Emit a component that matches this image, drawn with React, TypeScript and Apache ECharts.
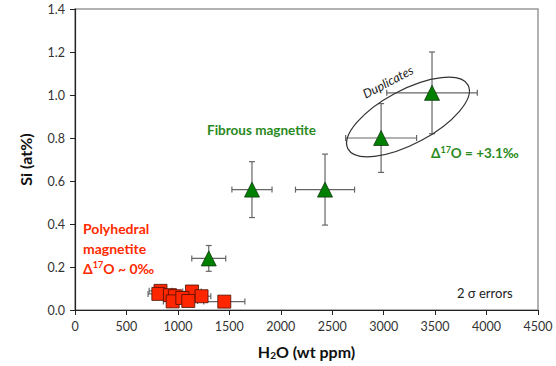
import React, { useEffect, useRef } from "react";
import * as echarts from "echarts";

// Fibrous magnetite (green triangles)
const fibrousH2O = [1300, 1720, 2430, 2975, 3470];
const fibrousSi = [0.24, 0.56, 0.56, 0.8, 1.01];
const fibrousH2OErr = [165, 195, 287, 345, 440];
const fibrousSiErr = [0.06, 0.13, 0.165, 0.16, 0.19];

// Polyhedral magnetite (red squares)
const polyH2O = [831, 810, 923, 971, 949, 1137, 1043, 1230, 1101, 1451];
const polySi = [0.089, 0.075, 0.069, 0.064, 0.04, 0.086, 0.056, 0.064, 0.042, 0.039];
const polyH2OErr = [110, 100, 90, 90, 90, 90, 90, 90, 90, 200];
const polySiErr = [0.01, 0.01, 0.01, 0.01, 0.01, 0.01, 0.01, 0.01, 0.01, 0.01];

const xTicks = [0, 500, 1000, 1500, 2000, 2500, 3000, 3500, 4000, 4500];
const yTicks = [0, 0.2, 0.4, 0.6, 0.8, 1.0, 1.2, 1.4];

const FONT = "Lato, 'Open Sans', sans-serif";
const GREEN = "#2a8a22";
const RED = "#ff2a00";

function errRender(params: any, api: any) {
  const x = api.value(0);
  const y = api.value(1);
  const ex = api.value(2);
  const ey = api.value(3);
  const l = api.coord([x - ex, y]);
  const r = api.coord([x + ex, y]);
  const t = api.coord([x, y + ey]);
  const b = api.coord([x, y - ey]);
  const cap = 3;
  const st = { stroke: "#666", lineWidth: 1.2 };
  return {
    type: "group",
    children: [
      { type: "line", shape: { x1: l[0], y1: l[1], x2: r[0], y2: r[1] }, style: st },
      { type: "line", shape: { x1: t[0], y1: t[1], x2: b[0], y2: b[1] }, style: st },
      { type: "line", shape: { x1: l[0], y1: l[1] - cap, x2: l[0], y2: l[1] + cap }, style: st },
      { type: "line", shape: { x1: r[0], y1: r[1] - cap, x2: r[0], y2: r[1] + cap }, style: st },
      { type: "line", shape: { x1: t[0] - cap, y1: t[1], x2: t[0] + cap, y2: t[1] }, style: st },
      { type: "line", shape: { x1: b[0] - cap, y1: b[1], x2: b[0] + cap, y2: b[1] }, style: st },
    ],
  };
}

export default function App() {
  const ref = useRef<HTMLDivElement>(null);
  useEffect(() => {
    const chart = echarts.init(ref.current!, null, { renderer: "svg" });
    const fibData = fibrousH2O.map((v, i) => [v, fibrousSi[i]]);
    const fibErr = fibrousH2O.map((v, i) => [v, fibrousSi[i], fibrousH2OErr[i], fibrousSiErr[i]]);
    const polyData = polyH2O.map((v, i) => [v, polySi[i]]);
    const polyErr = polyH2O.map((v, i) => [v, polySi[i], polyH2OErr[i], polySiErr[i]]);

    const option: any = {
      animation: false,
      backgroundColor: "#fff",
      textStyle: { fontFamily: FONT },
      grid: {
        left: 75,
        right: 18,
        top: 9,
        bottom: 56,
        show: true,
        borderColor: "#999",
        borderWidth: 1.5,
        outerBoundsMode: "none",
        containLabel: false,
      },
      xAxis: {
        type: "value",
        min: xTicks[0],
        max: xTicks[xTicks.length - 1],
        interval: 500,
        name: "{b|H}{s|2}{b|O (wt ppm)}",
        nameLocation: "middle",
        nameGap: 33,
        nameTextStyle: {
          rich: {
            b: { fontFamily: FONT, fontWeight: "bold", fontSize: 16, color: "#111", lineHeight: 16 },
            s: { fontFamily: FONT, fontWeight: "bold", fontSize: 10, color: "#111", lineHeight: 16, padding: [8, 0, 0, 0] },
          },
        },
        axisLine: { show: true, lineStyle: { color: "#222", width: 1.2 } },
        axisTick: { show: true, inside: false, length: 5, lineStyle: { color: "#222" } },
        axisLabel: { color: "#333", fontSize: 12.5, fontFamily: FONT, margin: 10, formatter: (v: number) => String(v) },
        splitLine: { show: false },
      },
      yAxis: {
        type: "value",
        min: yTicks[0],
        max: yTicks[yTicks.length - 1],
        interval: 0.2,
        name: "Si (at%)",
        nameLocation: "middle",
        nameGap: 42,
        nameRotate: 90,
        nameTextStyle: { fontFamily: FONT, fontWeight: "bold", fontSize: 16, color: "#111" },
        axisLine: { show: true, lineStyle: { color: "#222", width: 1.2 } },
        axisTick: { show: true, inside: false, length: 5, lineStyle: { color: "#222" } },
        axisLabel: { color: "#333", fontSize: 12.5, fontFamily: FONT, margin: 10, formatter: (v: number) => v.toFixed(1) },
        splitLine: { show: false },
      },
      series: [
        {
          type: "custom",
          name: "polyErr",
          renderItem: errRender,
          data: polyErr,
          clip: false,
          z: 1,
          silent: true,
        },
        {
          type: "scatter",
          name: "Polyhedral magnetite",
          data: polyData,
          symbol: "rect",
          symbolSize: 13,
          itemStyle: { color: "#ff2600", borderColor: "#4a1000", borderWidth: 0.8, opacity: 1 },
          z: 3,
        },
        {
          type: "custom",
          name: "fibErr",
          renderItem: errRender,
          data: fibErr,
          clip: false,
          z: 1,
          silent: true,
        },
        {
          type: "scatter",
          name: "Fibrous magnetite",
          data: fibData,
          symbol: "triangle",
          symbolSize: [15, 15],
          itemStyle: { color: "#008000", borderColor: "#123812", borderWidth: 0.8, opacity: 1 },
          z: 3,
        },
      ],
      graphic: [
        {
          type: "ellipse",
          x: 408,
          y: 117,
          rotation: (28 * Math.PI) / 180,
          shape: { cx: 0, cy: 0, rx: 68, ry: 27 },
          style: { fill: "none", stroke: "#333", lineWidth: 1.2 },
          z: 5,
        },
        {
          type: "text",
          x: 388,
          y: 82,
          rotation: (28 * Math.PI) / 180,
          style: {
            text: "Duplicates",
            fontFamily: FONT,
            fontStyle: "italic",
            fontSize: 12.5,
            fill: "#222",
            align: "center",
            verticalAlign: "middle",
          },
          z: 5,
        },
        {
          type: "text",
          x: 207,
          y: 130,
          style: {
            text: "Fibrous magnetite",
            fontFamily: FONT,
            fontWeight: "bold",
            fontSize: 13.5,
            fill: GREEN,
            align: "left",
            verticalAlign: "middle",
          },
          z: 5,
        },
        {
          type: "text",
          x: 431,
          y: 153,
          style: {
            text: "{b|Δ}{s|17}{b|O = +3.1‰}",
            align: "left",
            verticalAlign: "middle",
            rich: {
              b: { fontFamily: FONT, fontWeight: "bold", fontSize: 13.5, fill: GREEN, lineHeight: 16 },
              s: { fontFamily: FONT, fontWeight: "bold", fontSize: 9, fill: GREEN, lineHeight: 16, verticalAlign: "top" },
            },
          },
          z: 5,
        },
        {
          type: "text",
          x: 83,
          y: 228,
          style: {
            text: "Polyhedral",
            fontFamily: FONT,
            fontWeight: "bold",
            fontSize: 14,
            fill: RED,
            align: "left",
            verticalAlign: "middle",
          },
          z: 5,
        },
        {
          type: "text",
          x: 83,
          y: 248,
          style: {
            text: "magnetite",
            fontFamily: FONT,
            fontWeight: "bold",
            fontSize: 14,
            fill: RED,
            align: "left",
            verticalAlign: "middle",
          },
          z: 5,
        },
        {
          type: "text",
          x: 83,
          y: 268,
          style: {
            text: "{b|Δ}{s|17}{b|O ~ 0‰}",
            align: "left",
            verticalAlign: "middle",
            rich: {
              b: { fontFamily: FONT, fontWeight: "bold", fontSize: 14, fill: RED, lineHeight: 17 },
              s: { fontFamily: FONT, fontWeight: "bold", fontSize: 9, fill: RED, lineHeight: 17, verticalAlign: "top" },
            },
          },
          z: 5,
        },
        {
          type: "text",
          x: 457,
          y: 293,
          style: {
            text: "2 σ errors",
            fontFamily: FONT,
            fontSize: 13,
            fill: "#222",
            align: "left",
            verticalAlign: "middle",
          },
          z: 5,
        },
      ],
    };
    chart.setOption(option);
    return () => chart.dispose();
  }, []);
  return <div ref={ref} style={{ position: "fixed", left: 0, top: 0, width: 556, height: 366 }} />;
}
